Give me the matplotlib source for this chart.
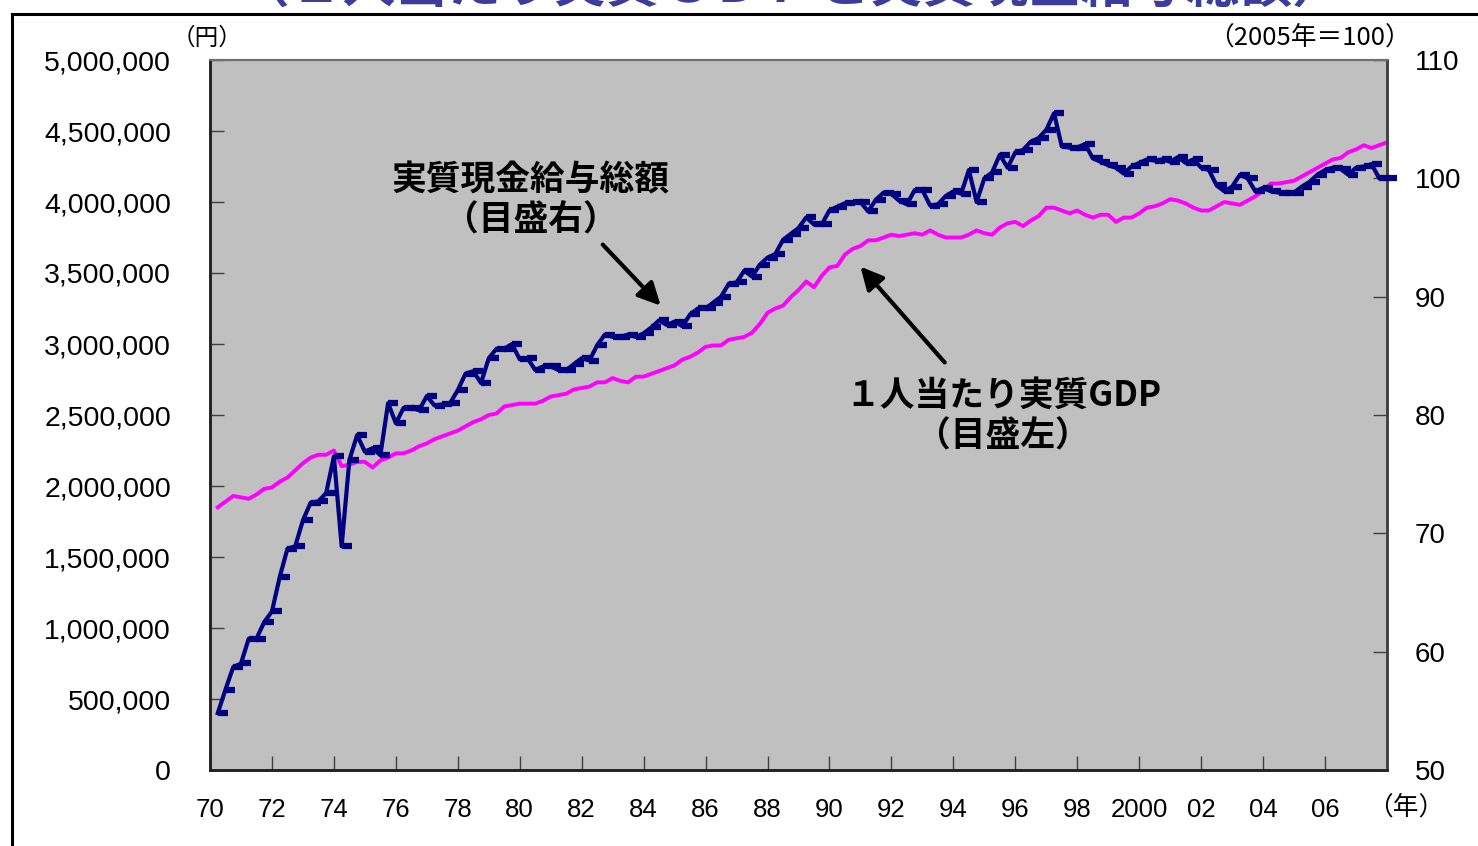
import matplotlib
matplotlib.use("Agg")
import matplotlib.pyplot as plt
from matplotlib.path import Path
from matplotlib.lines import Line2D
import numpy as np

plt.rcParams['font.family'] = ['Liberation Sans', 'Noto Sans CJK JP', 'DejaVu Sans']

# ---------------- data (quarterly, 1970Q1 - 2007Q4) ----------------
start_year = 1970
n_quarters = 152

# 1人当たり実質GDP (円, left axis)
gdp_per_capita = [
    1850000, 1890000, 1930000, 1920000, 1910000, 1940000, 1980000, 1990000,
    2030000, 2060000, 2110000, 2160000, 2200000, 2220000, 2220000, 2250000,
    2140000, 2150000, 2170000, 2170000, 2130000, 2180000, 2200000, 2230000,
    2230000, 2250000, 2280000, 2300000, 2330000, 2350000, 2370000, 2390000,
    2420000, 2450000, 2470000, 2500000, 2510000, 2560000, 2570000, 2580000,
    2580000, 2580000, 2600000, 2630000, 2640000, 2650000, 2680000, 2690000,
    2700000, 2730000, 2730000, 2760000, 2740000, 2730000, 2770000, 2770000,
    2790000, 2810000, 2830000, 2850000, 2890000, 2910000, 2940000, 2980000,
    2990000, 2990000, 3030000, 3040000, 3050000, 3080000, 3140000, 3220000,
    3250000, 3270000, 3330000, 3380000, 3440000, 3400000, 3480000, 3540000,
    3550000, 3630000, 3670000, 3690000, 3730000, 3730000, 3750000, 3770000,
    3760000, 3770000, 3780000, 3770000, 3800000, 3770000, 3750000, 3750000,
    3750000, 3770000, 3800000, 3780000, 3770000, 3820000, 3850000, 3860000,
    3830000, 3870000, 3900000, 3960000, 3960000, 3940000, 3920000, 3940000,
    3910000, 3890000, 3910000, 3910000, 3860000, 3890000, 3890000, 3920000,
    3960000, 3970000, 3990000, 4020000, 4010000, 3990000, 3960000, 3940000,
    3940000, 3970000, 4000000, 3990000, 3980000, 4010000, 4040000, 4080000,
    4130000, 4130000, 4140000, 4150000, 4180000, 4210000, 4240000, 4270000,
    4300000, 4310000, 4350000, 4370000, 4400000, 4380000, 4400000, 4420000,
]

# 実質現金給与総額 (2005年=100, right axis)
real_wages = [
    54.8, 56.8, 58.7, 59.0, 61.1, 61.1, 62.5, 63.4,
    66.3, 68.7, 68.9, 71.1, 72.6, 72.7, 73.4, 76.5,
    68.9, 76.2, 78.3, 76.9, 77.2, 76.6, 81.0, 79.3,
    80.6, 80.6, 80.4, 81.6, 80.8, 80.9, 81.0, 82.1,
    83.5, 83.7, 82.7, 84.8, 85.6, 85.6, 86.0, 84.7,
    84.8, 83.8, 84.1, 84.1, 83.8, 83.8, 84.3, 84.8,
    84.6, 85.9, 86.8, 86.6, 86.6, 86.8, 86.6, 86.9,
    87.4, 88.0, 87.6, 87.9, 87.5, 88.5, 89.0, 89.0,
    89.5, 90.0, 91.1, 91.2, 92.2, 91.7, 92.7, 93.3,
    93.6, 94.8, 95.3, 95.8, 96.7, 96.1, 96.1, 97.3,
    97.6, 97.9, 98.0, 98.0, 97.2, 98.2, 98.8, 98.7,
    98.1, 97.8, 99.0, 99.0, 97.7, 97.8, 98.5, 98.9,
    98.7, 100.7, 98.0, 100.0, 100.5, 102.0, 100.9, 102.2,
    102.4, 103.1, 103.4, 104.1, 105.5, 102.7, 102.6, 102.6,
    102.9, 101.7, 101.4, 101.1, 100.9, 100.4, 101.0, 101.3,
    101.6, 101.5, 101.6, 101.4, 101.8, 101.3, 101.6, 100.9,
    100.7, 99.4, 98.9, 99.3, 100.3, 100.0, 98.9, 99.2,
    98.9, 98.8, 98.8, 98.8, 99.3, 99.7, 100.3, 100.7,
    100.9, 100.8, 100.3, 100.9, 101.0, 101.2, 100.0, 100.0,
]

xtick_years = list(range(1970, 2009, 2))
xtick_labels = ['70', '72', '74', '76', '78', '80', '82', '84', '86', '88',
                '90', '92', '94', '96', '98', '2000', '02', '04', '06', '']
left_ticks = list(range(0, 5000001, 500000))
right_ticks = [50, 60, 70, 80, 90, 100, 110]

title_text = '（１人当たり実質ＧＤＰと実質現金給与総額）'
label_wage = '実質現金給与総額\n（目盛右）'
label_gdp = '１人当たり実質GDP\n（目盛左）'

# ---------------- figure ----------------
W, H = 1478, 846
fig = plt.figure(figsize=(W / 100, H / 100), dpi=100)
fig.patch.set_facecolor('white')

ax = fig.add_axes([210 / W, (H - 770) / H, (1387 - 210) / W, (770 - 60) / H])
ax.set_facecolor('#c0c0c0')
ax2 = ax.twinx()

x = start_year + 0.25 * (np.arange(n_quarters) + 1)

ax.plot(x, gdp_per_capita, color='#ff00ff', lw=2.8, solid_joinstyle='round', zorder=3)

dash = Path([(0, 0), (1, 0)], [Path.MOVETO, Path.LINETO])
ax2.plot(x, real_wages, color='#000080', lw=3.0, marker=dash, markersize=14.5,
         markeredgewidth=4.5, markeredgecolor='#000080', clip_on=False, zorder=4)

ax.set_xlim(1970, 2008)
ax.set_ylim(0, 5000000)
ax2.set_ylim(50, 110)

ax.set_xticks(xtick_years)
ax.set_xticklabels(xtick_labels, fontsize=18.5)
ax.set_yticks(left_ticks)
ax.set_yticklabels([f'{v:,}' for v in left_ticks], fontsize=20.5)
ax2.set_yticks(right_ticks)
ax2.set_yticklabels([str(v) for v in right_ticks], fontsize=20)

ax.tick_params(axis='x', direction='in', length=10, width=1, color='#404040', pad=20)
ax.tick_params(axis='y', direction='in', length=10, width=1, color='#404040', pad=28)
ax2.tick_params(axis='y', direction='in', length=10, width=1, color='#404040', pad=20)

for a in (ax, ax2):
    a.spines['left'].set_color('#202020')
    a.spines['left'].set_linewidth(1.8)
    a.spines['bottom'].set_color('#202020')
    a.spines['bottom'].set_linewidth(1.8)
    a.spines['top'].set_color('#707070')
    a.spines['top'].set_linewidth(1.5)
    a.spines['right'].set_color('#404040')
    a.spines['right'].set_linewidth(1.8)

# unit labels
fig.text(207 / W, 1 - 38 / H, '（円）', ha='center', va='center', fontsize=17,
         family=['Noto Sans CJK JP'])
fig.text(1310 / W, 1 - 38 / H, '（2005年＝100）', ha='center', va='center', fontsize=18.5,
         family=['Noto Sans CJK JP'])
fig.text(1406 / W, 1 - 808 / H, '（年）', ha='center', va='center', fontsize=18.5,
         family=['Noto Sans CJK JP'])

# annotations
ax.text(1980.35, 4015000, label_wage, ha='center', va='center', fontsize=25,
        fontweight='bold', linespacing=1.2, family=['Noto Sans CJK JP'], zorder=5)
ax.text(1995.6, 2495000, label_gdp, ha='center', va='center', fontsize=25,
        fontweight='bold', linespacing=1.2, family=['Noto Sans CJK JP'], zorder=5)

ax.annotate('', xy=(1984.55, 3270000), xytext=(1982.68, 3700000),
            arrowprops=dict(arrowstyle='-|>', lw=3, color='black', mutation_scale=34,
                            shrinkA=0, shrinkB=0), zorder=5)
ax.annotate('', xy=(1991.0, 3545000), xytext=(1993.72, 2870000),
            arrowprops=dict(arrowstyle='-|>', lw=3, color='black', mutation_scale=34,
                            shrinkA=0, shrinkB=0), zorder=5)

# cut-off title at the top (only the lower edge of the glyphs is visible)
fig.text(0.535, 0.9985, title_text, ha='center', va='baseline', fontsize=38,
         fontweight='bold', color='#3c3c9c', family=['Noto Sans CJK JP'])

# outer frame
fig.add_artist(Line2D([12 / W, 12 / W], [0, 1 - 14 / H], color='black', lw=2.2,
                      transform=fig.transFigure))
fig.add_artist(Line2D([12 / W, 1], [1 - 14 / H, 1 - 14 / H], color='black', lw=2.2,
                      transform=fig.transFigure))

fig.savefig('out.png', dpi=100)
